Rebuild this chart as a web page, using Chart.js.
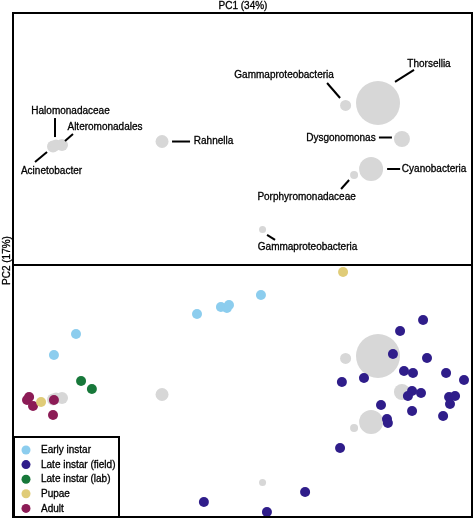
<!DOCTYPE html>
<html>
<head>
<meta charset="utf-8">
<script src="https://cdn.jsdelivr.net/npm/chart.js@4/dist/chart.umd.min.js"></script>
<style>
  html, body { margin: 0; padding: 0; background: #fff; }
  #wrap { position: relative; width: 474px; height: 519px; overflow: hidden; font-family: "Liberation Sans", Arial, Helvetica, sans-serif; }
  canvas { position: absolute; }
  .ln { position: absolute; background: #000; }
  .txt { position: absolute; font-size: 10px; color: #000; white-space: nowrap; -webkit-text-stroke: 0.3px #000; }
</style>
</head>
<body>
<div id="wrap">
  <canvas id="top" width="460" height="252" style="left:13px;top:13px;width:460px;height:252px"></canvas>
  <canvas id="bot" width="460" height="252" style="left:13px;top:266px;width:460px;height:252px"></canvas>
  <div class="ln" style="left:12px;top:12px;width:461px;height:2px"></div>
  <div class="ln" style="left:12px;top:264px;width:461px;height:2px"></div>
  <div class="ln" style="left:12px;top:516px;width:461px;height:2px"></div>
  <div class="ln" style="left:12px;top:12px;width:2px;height:506px"></div>
  <div class="ln" style="left:471px;top:12px;width:2px;height:506px"></div>
  <div class="txt" id="xTitle" style="left:193px;top:0px;width:100px;text-align:center"></div>
  <div class="txt" id="yTitle" style="left:-44px;top:255px;width:100px;text-align:center;transform:rotate(-90deg)"></div>
</div>
<script>
// ---- axis titles ----
const xAxisTitle = 'PC1 (34%)';
const yAxisTitle = 'PC2 (17%)';

// ---- taxa (loadings), shown as grey bubbles in both panels ----
const taxa = ['Thorsellia', 'Gammaproteobacteria', 'Dysgonomonas', 'Cyanobacteria', 'Porphyromonadaceae',
              'Gammaproteobacteria', 'Rahnella', 'Acinetobacter', 'Halomonadaceae', 'Alteromonadales'];
const taxaPC1 = [0.587, 0.446, 0.691, 0.557, 0.483, 0.085, -0.352, -0.826, -0.813, -0.787];
const taxaPC2 = [0.286, 0.266, 0.000, -0.238, -0.286, -0.718, -0.020, -0.060, -0.048, -0.048];
const taxaSize = [22, 5.5, 8, 12, 4, 3.5, 6.5, 6, 5.5, 6];

// ---- samples (scores) ----
const groups = ['Early instar', 'Late instar (field)', 'Late instar (lab)', 'Pupae', 'Adult'];
const earlyPC1 = [-0.726, -0.822, -0.200, -0.096, -0.070, -0.061, 0.078];
const earlyPC2 = [0.460, 0.294, 0.619, 0.675, 0.667, 0.690, 0.770];
const fieldPC1 = [0.783, 0.683, 0.652, 0.800, 0.700, 0.739, 0.883, 0.961, 0.430, 0.526, 0.735, 0.717, 0.774,
                  0.896, 0.922, 0.900, 0.600, 0.735, 0.870, 0.626, 0.630, 0.422, 0.270, 0.104, -0.170];
const fieldPC2 = [0.571, 0.484, 0.302, 0.270, 0.167, 0.151, 0.151, 0.095, 0.079, 0.111, 0.008, -0.032, -0.008,
                  -0.040, -0.032, -0.095, -0.103, -0.151, -0.190, -0.214, -0.246, -0.444, -0.794, -0.952, -0.873];
const labPC1 = [-0.704, -0.657];
const labPC2 = [0.087, 0.024];
const pupaePC1 = [0.435, -0.878];
const pupaePC2 = [0.952, -0.079];
const adultPC1 = [-0.930, -0.939, -0.913, -0.822, -0.826];
const adultPC2 = [-0.040, -0.063, -0.111, -0.063, -0.183];

// ---- styles (kept apart from the data) ----
const groupColors = ['#8ccdee', '#2f1d8a', '#17783a', '#e0cc78', '#8c1c56'];
const greyColor = '#d7d7d7';
const pointRadius = 5;
const FONT = '10px "Liberation Sans", Arial, Helvetica, sans-serif';
// label placement (pixel offsets from each bubble centre): text centre, leader line start/end
const labelLayout = [
  { t: [51, -39], l: [17, -21, 36, -33] },
  { t: [-61.5, -30.5], l: [-18.5, -22.5, -5.5, -7.5] },
  { t: [-61, -1], l: [-23, -1.5, -10, -1.5] },
  { t: [63, 0], l: [16, 0, 29, 0] },
  { t: [-47.5, 22], l: [-13, 14, -5, 5] },
  { t: [45, 17.5], l: [4.5, 5.5, 12.5, 10.5] },
  { t: [51.5, 0], l: [10, 0, 28, 0] },
  { t: [-1.5, 24.5], l: [-18, 15.5, -6, 5.5] },
  { t: [14.5, -34], l: [-1, -27, -1, -8] },
  { t: [43, -18], l: [3, -4, 11, -11] }
];

document.getElementById('xTitle').textContent = xAxisTitle;
document.getElementById('yTitle').textContent = yAxisTitle;

const zip = (xs, ys, r) => xs.map((x, i) => ({ x: x, y: ys[i], r: Array.isArray(r) ? r[i] : r }));

const greyDataset = () => ({
  label: 'taxa',
  data: zip(taxaPC1, taxaPC2, taxaSize),
  backgroundColor: greyColor,
  borderWidth: 0,
  hoverBorderWidth: 0
});

const scales = {
  x: { type: 'linear', min: -1, max: 1, display: false },
  y: { type: 'linear', min: -1, max: 1, display: false }
};
const baseOptions = {
  responsive: false,
  animation: false,
  events: [],
  layout: { padding: 0, autoPadding: false },
  scales: scales,
  plugins: { legend: { display: false }, tooltip: { enabled: false } }
};

function boldText(ctx, s, x, y) {
  ctx.lineWidth = 0.3;
  ctx.strokeStyle = '#000';
  ctx.strokeText(s, x, y);
  ctx.fillText(s, x, y);
}

// plugin: taxon labels with leader lines
const taxaLabels = {
  id: 'taxaLabels',
  afterDatasetsDraw(chart) {
    const ctx = chart.ctx;
    const xs = chart.scales.x, ys = chart.scales.y;
    ctx.save();
    ctx.font = FONT;
    ctx.fillStyle = '#000';
    ctx.textAlign = 'center';
    ctx.textBaseline = 'middle';
    taxa.forEach((name, i) => {
      const cx = xs.getPixelForValue(taxaPC1[i]);
      const cy = ys.getPixelForValue(taxaPC2[i]);
      const L = labelLayout[i];
      ctx.strokeStyle = '#000';
      ctx.lineWidth = 2;
      ctx.beginPath();
      ctx.moveTo(cx + L.l[0], cy + L.l[1]);
      ctx.lineTo(cx + L.l[2], cy + L.l[3]);
      ctx.stroke();
      boldText(ctx, name, cx + L.t[0], cy + L.t[1]);
    });
    ctx.restore();
  }
};

// plugin: boxed legend in the lower-left corner
const boxLegend = {
  id: 'boxLegend',
  afterDatasetsDraw(chart) {
    const ctx = chart.ctx;
    const h = chart.height;
    const bx = 0, by = h - 82, bw = 107, bh = 82;
    ctx.save();
    ctx.fillStyle = '#fff';
    ctx.fillRect(bx, by, bw, bh);
    ctx.strokeStyle = '#000';
    ctx.lineWidth = 2;
    ctx.strokeRect(bx + 1, by + 1, bw - 2, bh - 2);
    ctx.font = FONT;
    ctx.textAlign = 'left';
    ctx.textBaseline = 'middle';
    const items = chart.data.datasets.filter(d => d.label !== 'taxa');
    items.forEach((d, i) => {
      const y = by + 14 + i * 14.6;
      ctx.beginPath();
      ctx.arc(bx + 13, y, 4.5, 0, Math.PI * 2);
      ctx.fillStyle = d.backgroundColor;
      ctx.fill();
      ctx.fillStyle = '#000';
      boldText(ctx, d.label, bx + 28, y + 0.5);
    });
    ctx.restore();
  }
};

new Chart(document.getElementById('top'), {
  type: 'bubble',
  data: { datasets: [greyDataset()] },
  options: baseOptions,
  plugins: [taxaLabels]
});

const groupPC1 = [earlyPC1, fieldPC1, labPC1, pupaePC1, adultPC1];
const groupPC2 = [earlyPC2, fieldPC2, labPC2, pupaePC2, adultPC2];
const sampleSets = groups.map((g, i) => ({
  label: g,
  data: zip(groupPC1[i], groupPC2[i], pointRadius),
  backgroundColor: groupColors[i],
  borderWidth: 0,
  hoverBorderWidth: 0
}));

new Chart(document.getElementById('bot'), {
  type: 'bubble',
  data: { datasets: sampleSets.concat([greyDataset()]) },
  options: baseOptions,
  plugins: [boxLegend]
});
</script>
</body>
</html>
